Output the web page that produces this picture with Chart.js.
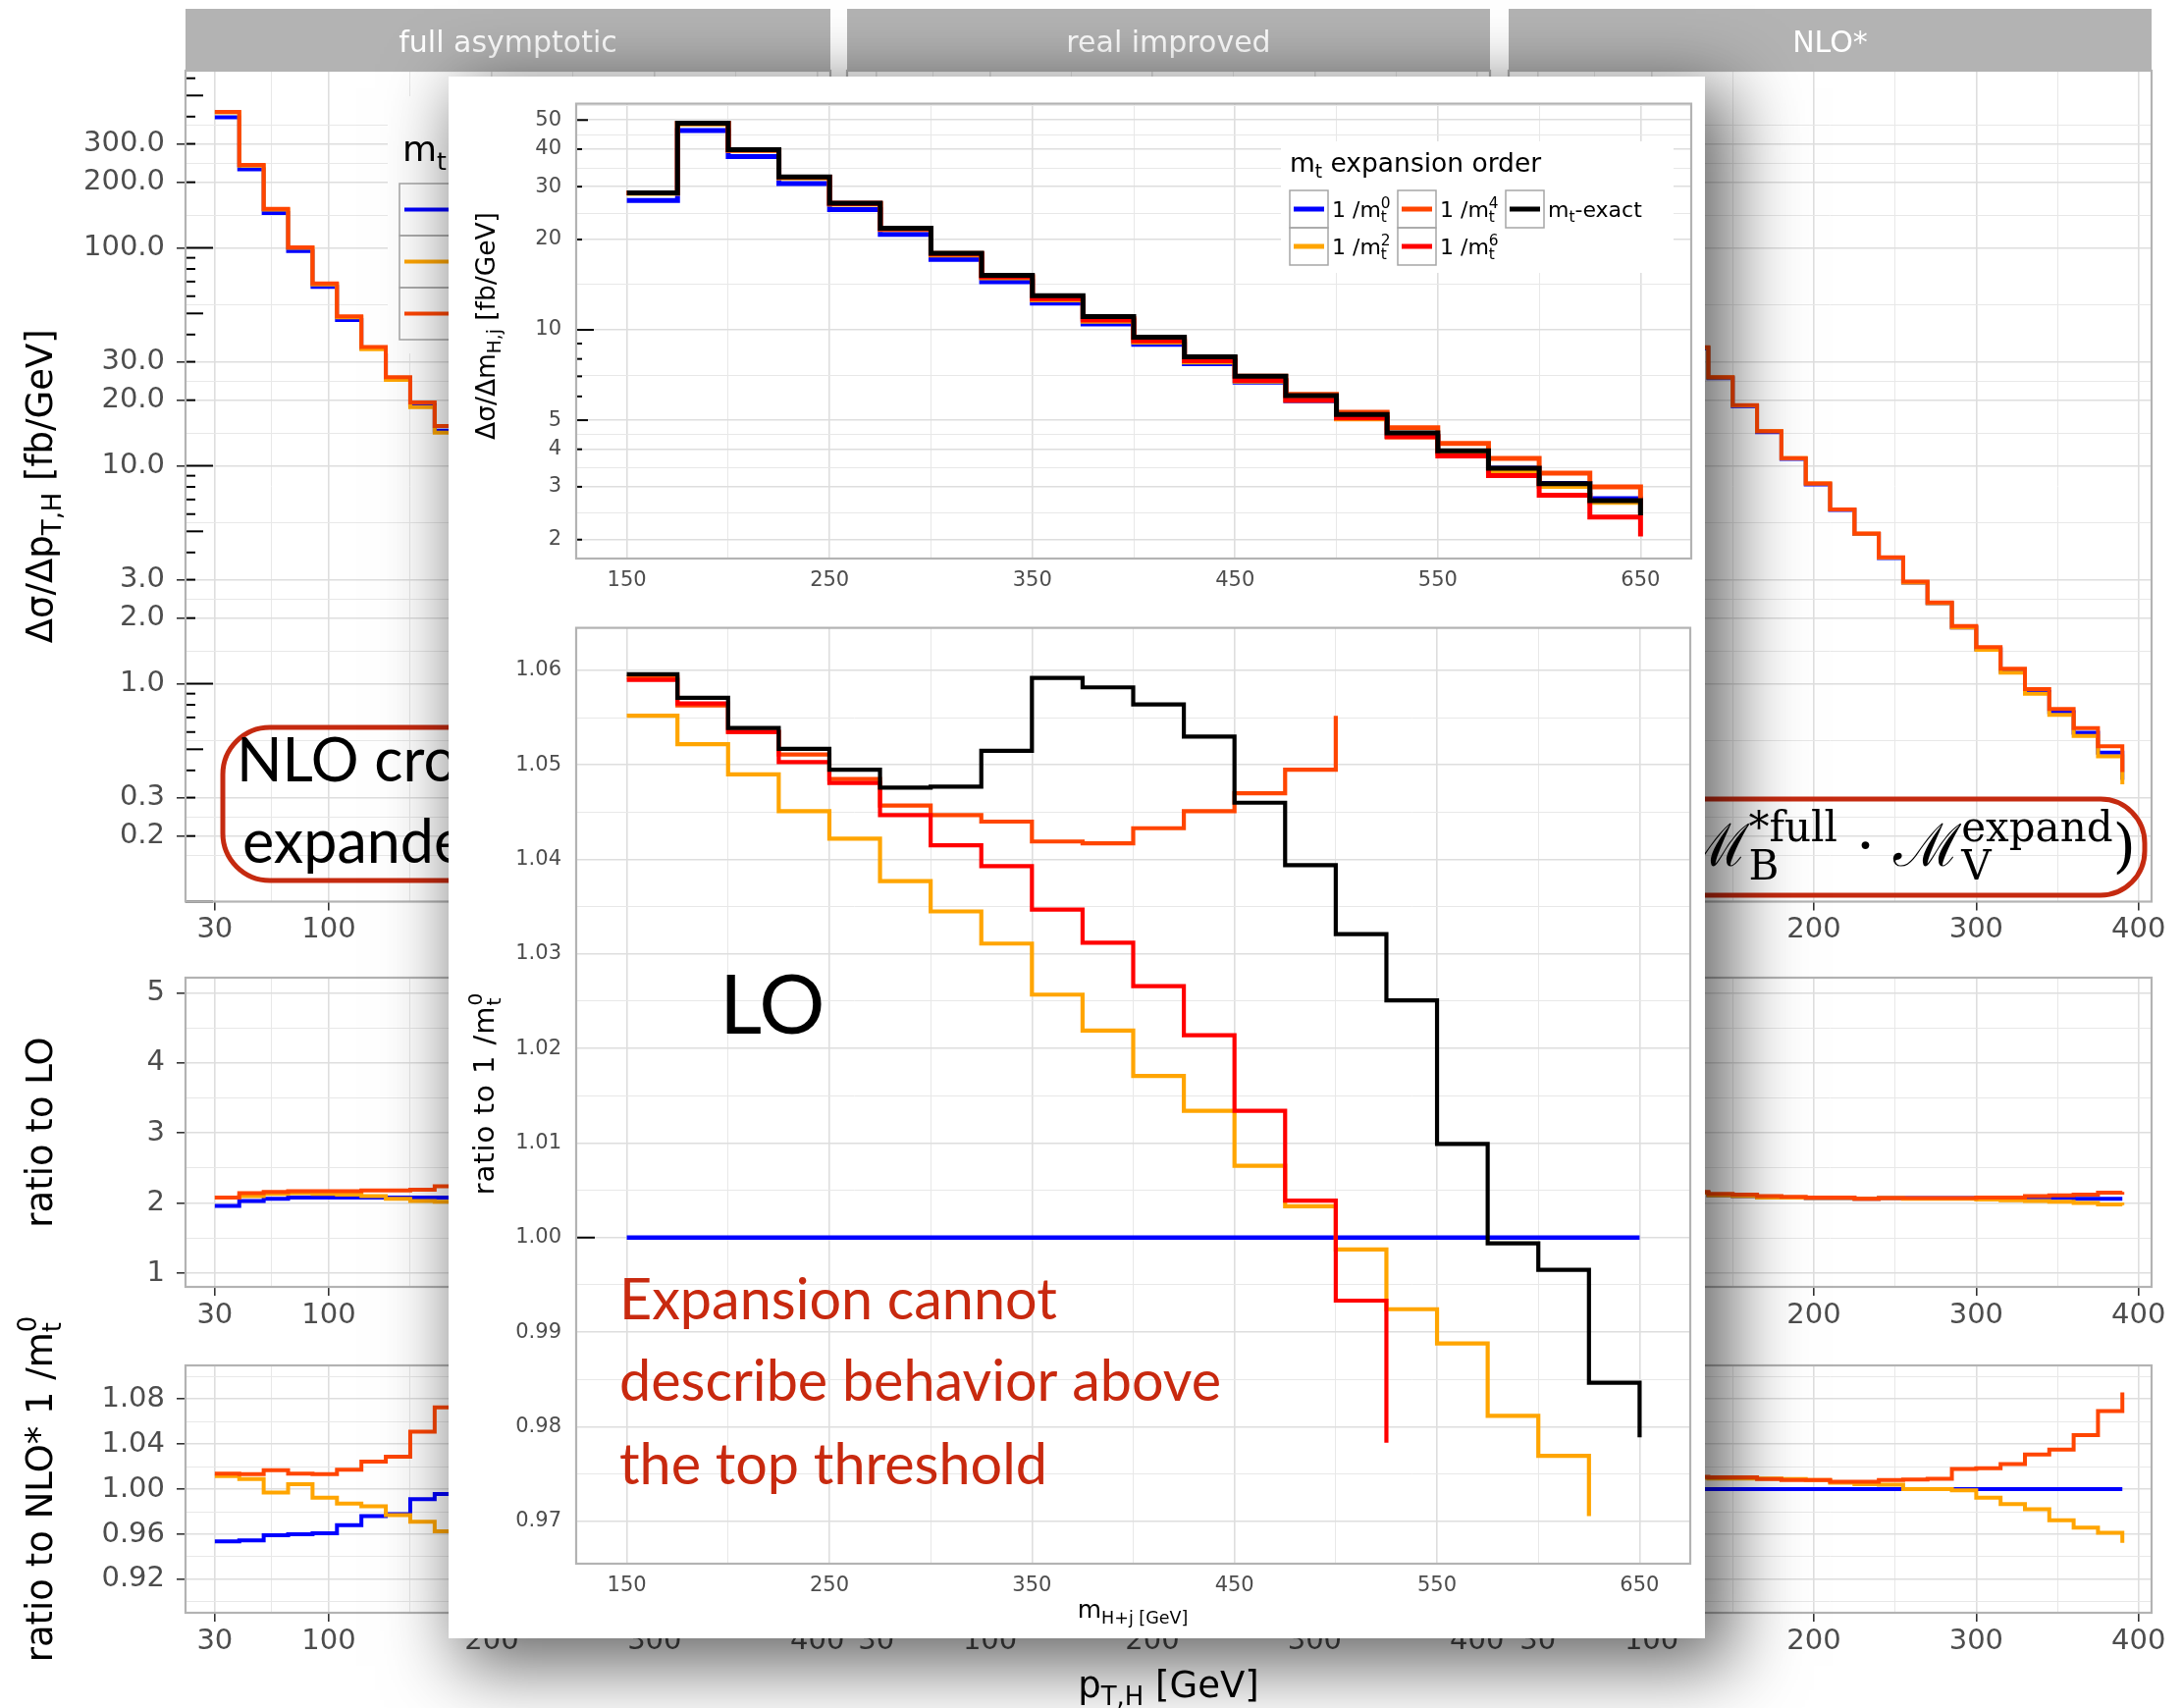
<!DOCTYPE html>
<html>
<head>
<meta charset="utf-8">
<script src="https://cdn.jsdelivr.net/npm/chart.js@4.4.1/dist/chart.umd.min.js"></script>
<style>
  body { margin: 0; background: #fff; width: 2223px; height: 1740px; overflow: hidden; position: relative; }
  #bg { position: absolute; left: 0; top: 0; width: 2223px; height: 1740px; }
  canvas { position: absolute; }
  #inset { position: absolute; left: 457px; top: 78px; width: 1280px; height: 1591px; background: #fff;
           box-shadow: 18px 20px 70px 8px rgba(0,0,0,0.6); }
</style>
</head>
<body>
<div id="bg"></div>
<div id="inset"></div>
<script>
// ---------- series ----------
const seriesNames  = ['1 /m_t^0', '1 /m_t^2', '1 /m_t^4', '1 /m_t^6', 'm_t-exact'];
const seriesColors = ['#0000ff', '#ffa500', '#ff4500', '#ff0000', '#000000'];
const facetTitles  = ['full asymptotic', 'real improved', 'NLO*'];

// ---------- inset: LO, binned in m_H+j (lower bin edges, GeV) ----------
const mhjEdges = [150, 175, 200, 225, 250, 275, 300, 325, 350, 375, 400, 425, 450, 475, 500, 525, 550, 575, 600, 625, 650];
const xsecM0    = [26.99, 46.16, 37.76, 30.71, 25.15, 20.81, 17.18, 14.46, 12.27, 10.46, 8.95, 7.72, 6.70, 5.81, 5.06, 4.43, 3.91, 3.46, 3.08, 2.74, 2.46];
const xsecM2    = [28.48, 48.57, 39.61, 32.10, 26.21, 21.59, 17.77, 14.91, 12.59, 10.69, 9.10, 7.82, 6.75, 5.83, 5.05, 4.40, 3.87, 3.39, 3.01, 2.66, 2.43];
const xsecM4    = [28.59, 48.76, 39.78, 32.28, 26.37, 21.76, 17.95, 15.10, 12.78, 10.90, 9.34, 8.07, 7.01, 6.10, 5.31, 4.72, 4.18, 3.73, 3.33, 3.00, 2.62];
const xsecM6    = [28.58, 48.77, 39.78, 32.25, 26.36, 21.74, 17.89, 15.03, 12.70, 10.79, 9.19, 7.89, 6.79, 5.83, 5.09, 4.40, 3.80, 3.27, 2.81, 2.38, 2.05];
const xsecExact = [28.6, 48.8, 39.8, 32.3, 26.4, 21.8, 18.0, 15.2, 13.0, 11.07, 9.45, 8.13, 7.01, 6.04, 5.22, 4.54, 3.95, 3.46, 3.07, 2.70, 2.41];

const ratioM0    = [1, 1, 1, 1, 1, 1, 1, 1, 1, 1, 1, 1, 1, 1, 1, 1, 1, 1, 1, 1, 1];
const ratioM2    = [1.0552, 1.0522, 1.0490, 1.0451, 1.0422, 1.0377, 1.0345, 1.0311, 1.0257, 1.0219, 1.0171, 1.0134, 1.0076, 1.0033, 0.99874, 0.99242, 0.98879, 0.98114, 0.97690, 0.97054];
const ratioM4    = [1.0593, 1.0563, 1.0535, 1.0511, 1.0485, 1.0457, 1.0447, 1.0440, 1.0419, 1.0417, 1.0433, 1.0451, 1.0470, 1.0495, 1.0552];
const ratioM6    = [1.0590, 1.0565, 1.0535, 1.0503, 1.0481, 1.0447, 1.0415, 1.0393, 1.0347, 1.0312, 1.0266, 1.0214, 1.0134, 1.0039, 0.99333, 0.97830];
const ratioExact = [1.0596, 1.0571, 1.0539, 1.0517, 1.0495, 1.0476, 1.0477, 1.0515, 1.0592, 1.0582, 1.0564, 1.0530, 1.0460, 1.0394, 1.0321, 1.0251, 1.0099, 0.99939, 0.99658, 0.98465, 0.97886];

// ---------- background: NLO, binned in pT,H (visible parts only) ----------
const ptEdgesFull = [30, 45, 60, 75, 90, 105, 120, 135, 150, 165, 180];
const fullXsec0 = [397, 229, 144.6, 96.6, 66.2, 46.7, 34.6, 25.2, 19.0, 14.5, 10.6];
const fullXsec2 = [418, 238, 150, 100, 68, 48, 34.3, 24.8, 18.6, 14.2, 10.5];
const fullXsec4 = [420, 240, 151, 100.6, 68.7, 48.5, 35.1, 25.5, 19.5, 15.2, 10.9];
const fullLO0 = [1.96, 2.03, 2.06, 2.08, 2.08, 2.08, 2.08, 2.08, 2.08, 2.08, 2.08];
const fullLO2 = [2.08, 2.10, 2.13, 2.14, 2.13, 2.12, 2.10, 2.06, 2.03, 2.02, 2.01];
const fullLO4 = [2.08, 2.14, 2.16, 2.17, 2.17, 2.17, 2.18, 2.18, 2.19, 2.24, 2.22];
const fullNlo0 = [0.9537, 0.9545, 0.9592, 0.9600, 0.9609, 0.968, 0.976, 0.9778, 0.9911, 0.9956, 0.998];
const fullNlo2 = [1.0116, 1.0089, 0.9970, 1.0044, 0.9924, 0.9871, 0.9848, 0.9769, 0.9711, 0.9626, 0.960];
const fullNlo4 = [1.0138, 1.0133, 1.0169, 1.0138, 1.0133, 1.0173, 1.0245, 1.0289, 1.0511, 1.0725, 1.075];

const ptEdgesNlo = [120, 135, 150, 165, 180, 195, 210, 225, 240, 255, 270, 285, 300, 315, 330, 345, 360, 375, 390];
const nloXsec0 = [34.6, 25.2, 18.75, 14.27, 10.74, 8.22, 6.27, 4.86, 3.77, 2.91, 2.34, 1.81, 1.44, 1.14, 0.916, 0.740, 0.596, 0.483, 0.362];
const nloXsec2 = [34.9, 25.4, 18.9, 14.4, 10.84, 8.30, 6.31, 4.88, 3.79, 2.91, 2.34, 1.81, 1.43, 1.125, 0.90, 0.72, 0.576, 0.464, 0.345];
const nloXsec4 = [35.0, 25.5, 18.95, 14.4, 10.83, 8.29, 6.31, 4.89, 3.80, 2.94, 2.36, 1.84, 1.47, 1.17, 0.944, 0.766, 0.625, 0.516, 0.393];
const nloLO0 = [2.15, 2.11, 2.10, 2.08, 2.08, 2.07, 2.07, 2.06, 2.07, 2.07, 2.07, 2.07, 2.07, 2.07, 2.07, 2.07, 2.06, 2.06, 2.06];
const nloLO2 = [2.15, 2.11, 2.10, 2.08, 2.08, 2.07, 2.07, 2.06, 2.07, 2.06, 2.06, 2.06, 2.05, 2.04, 2.03, 2.02, 2.00, 1.98, 1.97];
const nloLO4 = [2.16, 2.13, 2.12, 2.10, 2.09, 2.08, 2.08, 2.06, 2.07, 2.07, 2.07, 2.07, 2.08, 2.08, 2.10, 2.11, 2.12, 2.15, 2.16];
const nloNlo0 = [1, 1, 1, 1, 1, 1, 1, 1, 1, 1, 1, 1, 1, 1, 1, 1, 1, 1, 1];
const nloNlo2 = [1.0100, 1.0095, 1.0095, 1.0095, 1.0090, 1.0080, 1.0058, 1.0045, 1.0040, 1.0000, 1.0000, 0.9990, 0.9924, 0.9867, 0.9822, 0.9725, 0.9658, 0.9613, 0.9524];
const nloNlo4 = [1.0110, 1.0106, 1.0106, 1.0089, 1.0080, 1.0080, 1.0066, 1.0066, 1.0080, 1.0085, 1.0092, 1.0178, 1.0185, 1.0222, 1.0307, 1.0351, 1.0480, 1.0693, 1.0858];

// ---------- tick labels ----------
const mhjTicks    = [150, 250, 350, 450, 550, 650];
const xsecTicks   = [2, 3, 4, 5, 10, 20, 30, 40, 50];
const ratioTicks  = [0.97, 0.98, 0.99, 1.00, 1.01, 1.02, 1.03, 1.04, 1.05, 1.06];
const ptTicks     = [30, 100, 200, 300, 400];
const ptXsecTicks = [0.2, 0.3, 1, 2, 3, 10, 20, 30, 100, 200, 300];
const ptLOTicks   = [1, 2, 3, 4, 5];
const ptNloTicks  = [0.92, 0.96, 1.00, 1.04, 1.08];

Chart.defaults.font.family = 'DejaVu Sans';

// ---------- helpers ----------
function midBreaks(major, log) {
  const f = log ? Math.log10 : v => v, inv = log ? v => Math.pow(10, v) : v => v;
  const t = major.map(f), n = t.length;
  const ext = [t[0] - (t[1] - t[0])].concat(t, [t[n - 1] + (t[n - 1] - t[n - 2])]);
  const out = [];
  for (let i = 0; i < ext.length - 1; i++) out.push(inv((ext[i] + ext[i + 1]) / 2));
  return out;
}

function logTickList(lo, hi, short, mid, long) {
  const out = [];
  for (let n = -2; n <= 3; n++) for (let k = 1; k <= 9; k++) {
    const v = k * Math.pow(10, n);
    if (v >= lo && v <= hi) out.push([v, k === 1 ? long : k === 5 ? mid : short]);
  }
  return out;
}

function parseRich(str) {
  const out = []; let i = 0, buf = '';
  while (i < str.length) {
    const c = str[i];
    if (c === '_' || c === '^') {
      if (buf) { out.push({t: buf, k: 'n'}); buf = ''; }
      let t;
      if (str[i + 1] === '{') { const j = str.indexOf('}', i); t = str.slice(i + 2, j); i = j + 1; }
      else { t = str[i + 1]; i += 2; }
      out.push({t, k: c === '_' ? 'sub' : 'sup'});
    } else { buf += c; i++; }
  }
  if (buf) out.push({t: buf, k: 'n'});
  return out;
}

function drawRich(ctx, str, x, y, o) {
  const s = o.size, fam = o.family || 'DejaVu Sans';
  const fMain = s + 'px ' + fam, fSmall = (s * 0.7) + 'px ' + fam;
  const items = parseRich(str), laid = [];
  ctx.save();
  if (o.ls) ctx.letterSpacing = o.ls + 'px';
  let w = 0;
  for (let k = 0; k < items.length; k++) {
    const it = items[k];
    if (it.k === 'n') {
      ctx.font = fMain;
      laid.push({t: it.t, f: fMain, x: w, dy: 0});
      w += ctx.measureText(it.t).width;
    } else {
      ctx.font = fSmall;
      let m = ctx.measureText(it.t).width;
      laid.push({t: it.t, f: fSmall, x: w, dy: it.k === 'sub' ? s * 0.24 : -s * 0.42});
      const nx = items[k + 1];
      if (nx && nx.k !== 'n' && nx.k !== it.k) {
        laid.push({t: nx.t, f: fSmall, x: w, dy: nx.k === 'sub' ? s * 0.24 : -s * 0.42});
        m = Math.max(m, ctx.measureText(nx.t).width); k++;
      }
      w += m;
    }
  }
  ctx.translate(x, y);
  if (o.rotate) ctx.rotate(o.rotate);
  const x0 = o.align === 'center' ? -w / 2 : o.align === 'right' ? -w : 0;
  ctx.fillStyle = o.color || '#000';
  ctx.textAlign = 'left'; ctx.textBaseline = 'alphabetic';
  laid.forEach(p => { ctx.font = p.f; ctx.fillText(p.t, x0 + p.x, p.dy); });
  ctx.restore();
}

function rrect(ctx, x, y, w, h, r) {
  ctx.beginPath();
  ctx.moveTo(x + r, y);
  ctx.arcTo(x + w, y, x + w, y + h, r);
  ctx.arcTo(x + w, y + h, x, y + h, r);
  ctx.arcTo(x, y + h, x, y, r);
  ctx.arcTo(x, y, x + w, y, r);
  ctx.closePath();
}

// panel frame, log ticks and free annotations (drawn in page coordinates)
Chart.register({
  id: 'deco',
  afterDatasetsDraw(chart) {
    const ex = chart.canvas.ex || {}, ctx = chart.ctx, a = chart.chartArea;
    ctx.save();
    if (ex.logTicks) {
      const ys = chart.scales.y;
      ctx.strokeStyle = '#000'; ctx.lineWidth = 2;
      ex.logTicks.forEach(([v, len]) => {
        const py = ys.getPixelForValue(v);
        if (py < a.top || py > a.bottom) return;
        ctx.beginPath(); ctx.moveTo(a.left, py); ctx.lineTo(a.left + len, py); ctx.stroke();
      });
    }
    ctx.strokeStyle = '#b3b3b3'; ctx.lineWidth = 2.2;
    ctx.strokeRect(a.left, a.top, a.right - a.left, a.bottom - a.top);
    ctx.translate(-ex.ox, -ex.oy);
    if (ex.draw) ex.draw(ctx);
    ctx.restore();
  }
});

function scaleCfg(o) {
  const isMaj = v => o.major.includes(v);
  const all = o.major.concat(midBreaks(o.major, o.log).filter(v => v > o.min && v < o.max)).sort((a, b) => a - b);
  return {
    type: o.log ? 'logarithmic' : 'linear', min: o.min, max: o.max, bounds: 'data',
    afterBuildTicks: s => { s.ticks = all.map(v => ({value: v})); },
    afterFit: s => { if (o.axis === 'x') s.height = o.size; else s.width = o.size; },
    ticks: {
      display: o.labels !== false, autoSkip: false, maxRotation: 0, minRotation: 0,
      padding: o.pad, color: '#4d4d4d', font: {family: 'DejaVu Sans', size: o.font},
      callback: v => isMaj(v) ? o.fmt(v) : ''
    },
    grid: {
      drawTicks: o.tick > 0, tickLength: o.tick || 0, tickWidth: 1.6,
      tickColor: c => (c.tick && isMaj(c.tick.value)) ? '#333333' : 'rgba(0,0,0,0)',
      color: c => (c.tick && isMaj(c.tick.value)) ? '#dedede' : '#e8e8e8',
      lineWidth: c => (c.tick && isMaj(c.tick.value)) ? 1.6 : 1
    },
    border: {display: false}
  };
}

// horizontal first, then vertical at the next bin edge
function stepSet(xs, ys, idx, width) {
  return {
    data: ys.map((y, i) => ({x: xs[i], y})),
    borderColor: seriesColors[idx], borderWidth: width,
    stepped: 'before', pointRadius: 0, fill: false, order: 10 - idx, borderJoinStyle: 'miter'
  };
}

const INSET = {x: 457, y: 78};
function panel(inInset, box, area, xs, ys, datasets, ex) {
  const cv = document.createElement('canvas');
  const W = Math.round(box.w), H = Math.round(box.h);
  cv.width = W; cv.height = H;
  cv.style.left = (box.x - (inInset ? INSET.x : 0)) + 'px';
  cv.style.top = (box.y - (inInset ? INSET.y : 0)) + 'px';
  cv.style.width = W + 'px'; cv.style.height = H + 'px';
  document.getElementById(inInset ? 'inset' : 'bg').appendChild(cv);
  ex.ox = box.x; ex.oy = box.y; cv.ex = ex;
  xs.axis = 'x'; xs.size = box.y + H - area.b;
  ys.axis = 'y'; ys.size = area.l - box.x;
  new Chart(cv, {
    type: 'line',
    data: {datasets},
    options: {
      animation: false, responsive: false, events: [],
      layout: {padding: {left: 0, bottom: 0, top: area.t - box.y, right: box.x + W - area.r}},
      plugins: {legend: {display: false}, tooltip: {enabled: false}},
      scales: {x: scaleCfg(xs), y: scaleCfg(ys)}
    }
  });
}

// ---------- background facet grid ----------
const COLS = [{l: 189, r: 846}, {l: 863, r: 1518}, {l: 1537, r: 2192}];
const ROWS = [{t: 72, b: 918.5}, {t: 996, b: 1311}, {t: 1390.5, b: 1642.5}];
const facets = [
  {edges: ptEdgesFull, rows: [[fullXsec0, fullXsec2, fullXsec4], [fullLO0, fullLO2, fullLO4], [fullNlo0, fullNlo2, fullNlo4]]},
  null,
  {edges: ptEdgesNlo, rows: [[nloXsec0, nloXsec2, nloXsec4], [nloLO0, nloLO2, nloLO4], [nloNlo0, nloNlo2, nloNlo4]]}
];
const rowAxes = [
  {log: true, min: 0.1, max: 650, major: ptXsecTicks, fmt: v => v.toFixed(1)},
  {min: 0.804, max: 5.215, major: ptLOTicks, fmt: v => String(v)},
  {min: 0.8903, max: 1.1098, major: ptNloTicks, fmt: v => v.toFixed(2)}
];
const rowTitles = ['Δσ/Δp_{T,H} [fb/GeV]', 'ratio to LO', 'ratio to NLO* 1 /m_t^0'];
const RED = '#c52a10';

function bgDraw(ci, ri) {
  return ctx => {
    if (ri === 0) {
      const c = COLS[ci];
      ctx.fillStyle = '#b3b3b3'; ctx.fillRect(c.l, 9, c.r - c.l, 63);
      ctx.fillStyle = '#ffffff'; ctx.font = '30px DejaVu Sans'; ctx.textAlign = 'center'; ctx.textBaseline = 'alphabetic';
      ctx.fillText(facetTitles[ci], (c.l + c.r) / 2, 53);
    }
    if (ci === 0) {
      drawRich(ctx, rowTitles[ri], 53, (ROWS[ri].t + ROWS[ri].b) / 2, {size: 37, align: 'center', rotate: -Math.PI / 2});
    }
    if (ci === 0 && ri === 0) {
      // legend of the background figure
      ctx.fillStyle = '#fff'; ctx.fillRect(395, 98, 90, 262);
      drawRich(ctx, 'm_t', 410, 164, {size: 36});
      for (let i = 0; i < 3; i++) {
        const y = 187 + i * 53;
        ctx.strokeStyle = '#a6a6a6'; ctx.lineWidth = 1.5; ctx.strokeRect(407, y, 60, 53);
        ctx.strokeStyle = seriesColors[i]; ctx.lineWidth = 4;
        ctx.beginPath(); ctx.moveTo(412, y + 26.5); ctx.lineTo(462, y + 26.5); ctx.stroke();
        drawRich(ctx, seriesNames[i], 476, y + 38, {size: 30});
      }
      ctx.strokeStyle = RED; ctx.lineWidth = 5; rrect(ctx, 227, 741, 720, 156, 48); ctx.stroke();
      ctx.fillStyle = '#000'; ctx.textAlign = 'left'; ctx.font = '61px Lato';
      ctx.fillText('NLO cross section', 241, 796);
      ctx.fillText('expanded', 247, 879);
    }
    if (ci === 2 && ri === 0) {
      ctx.strokeStyle = RED; ctx.lineWidth = 5; rrect(ctx, 1450, 814, 735, 98, 45); ctx.stroke();
      drawRich(ctx, '(ℳ_B^{*full} · ℳ_V^{expand})', 2176, 882, {size: 60, family: 'DejaVu Serif', align: 'right'});
    }
    if (ci === 1 && ri === 2) {
      drawRich(ctx, 'p_{T,H} [GeV]', (COLS[1].l + COLS[1].r) / 2, 1728, {size: 37, align: 'center'});
    }
  };
}

for (let ri = 0; ri < 3; ri++) {
  for (let ci = 0; ci < 3; ci++) {
    const c = COLS[ci], r = ROWS[ri];
    const x0 = ci === 0 ? 0 : c.l - 60, x1 = ci === 2 ? 2223 : c.r + 20;
    const y0 = ri === 0 ? 0 : r.t - 50, y1 = ri === 2 ? 1740 : r.b + 52;
    const f = facets[ci];
    const sets = f ? f.rows[ri].map((ys, k) => stepSet(f.edges, ys, k, 4)) : [];
    const ya = Object.assign({}, rowAxes[ri], {font: 29, pad: 12, tick: 9, labels: ci === 0});
    const xa = {min: 12, max: 408, major: ptTicks, fmt: v => String(v), font: 29, pad: 3, tick: 9};
    panel(false, {x: x0, y: y0, w: x1 - x0, h: y1 - y0}, {l: c.l, t: r.t, r: c.r, b: r.b}, xa, ya, sets,
      {draw: bgDraw(ci, ri), logTicks: ri === 0 ? logTickList(0.1, 650, 10, 18, 28) : null});
  }
}

// ---------- inset (LO) ----------
const xsecSeries  = [xsecM0, xsecM2, xsecM4, xsecM6, xsecExact];
const ratioSeries = [ratioM0, ratioM2, ratioM4, ratioM6, ratioExact];

panel(true, {x: 457, y: 78, w: 1280, h: 534}, {l: 587, t: 94.5, r: 1723, b: 569},
  {min: 125, max: 675, major: mhjTicks, fmt: v => String(v), font: 21, pad: 10, tick: 0},
  {log: true, min: 1.73, max: 56.7, major: xsecTicks, fmt: v => String(v), font: 21, pad: 15, tick: 0},
  xsecSeries.map((ys, k) => stepSet(mhjEdges, ys, k, 5)),
  {
    logTicks: logTickList(1.73, 56.7, 6, 12, 18),
    draw: ctx => {
      drawRich(ctx, 'Δσ/Δm_{H,j} [fb/GeV]', 504, 332, {size: 26.5, align: 'center', rotate: -Math.PI / 2});
      ctx.fillStyle = '#fff'; ctx.fillRect(1305, 144, 400, 134);
      drawRich(ctx, 'm_t expansion order', 1314, 175, {size: 26.5});
      const cols = [1314, 1424, 1534], rows = [194, 232];
      seriesNames.forEach((name, i) => {
        const x = cols[Math.floor(i / 2)], y = rows[i % 2];
        ctx.strokeStyle = '#a6a6a6'; ctx.lineWidth = 1.5; ctx.strokeRect(x, y, 39, 38);
        ctx.strokeStyle = seriesColors[i]; ctx.lineWidth = 5;
        ctx.beginPath(); ctx.moveTo(x + 4, y + 19); ctx.lineTo(x + 35, y + 19); ctx.stroke();
        drawRich(ctx, name, x + 43, y + 27, {size: 22});
      });
    }
  });

panel(true, {x: 457, y: 612, w: 1280, h: 1057}, {l: 587, t: 626, r: 1722, b: 1593},
  {min: 125, max: 675, major: mhjTicks, fmt: v => String(v), font: 21, pad: 10, tick: 0},
  {min: 0.9655, max: 1.0645, major: ratioTicks, fmt: v => v.toFixed(2), font: 21, pad: 15, tick: 0},
  ratioSeries.map((ys, k) => stepSet(mhjEdges, ys, k, k === 0 ? 4.5 : 4.2)),
  {
    logTicks: [[1, 19]],
    draw: ctx => {
      drawRich(ctx, 'ratio to 1 /m_t^0', 503, 1114, {size: 29, align: 'center', rotate: -Math.PI / 2, ls: 1});
      drawRich(ctx, 'm_{H+j [GeV]}', 1154, 1648, {size: 25, align: 'center'});
      ctx.fillStyle = '#000'; ctx.textAlign = 'left'; ctx.textBaseline = 'alphabetic';
      ctx.font = '84px Lato'; ctx.fillText('LO', 733, 1053);
      ctx.fillStyle = '#c8290f'; ctx.font = '57.5px Lato';
      ctx.fillText('Expansion cannot', 631, 1344);
      ctx.fillText('describe behavior above', 631, 1427);
      ctx.fillText('the top threshold', 631, 1512);
    }
  });
</script>
</body>
</html>
